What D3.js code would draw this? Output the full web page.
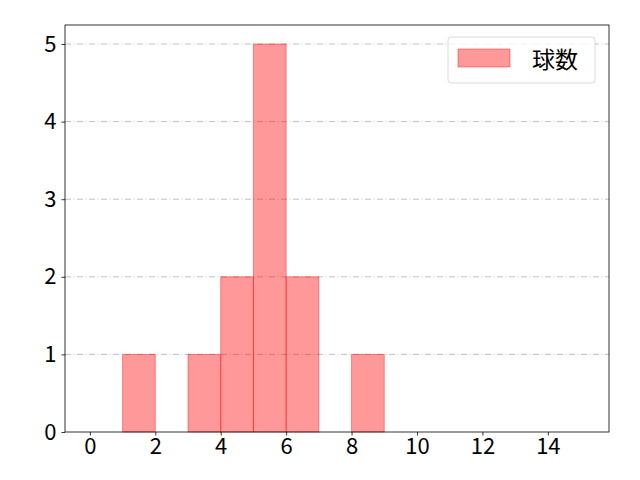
<!DOCTYPE html>
<html>
<head>
<meta charset="utf-8">
<script src="https://cdn.jsdelivr.net/npm/d3@7"></script>
<style>
  body { margin: 0; background: #fff; }
  svg text { font-family: "Noto Sans CJK JP", "DejaVu Sans", sans-serif; }
</style>
</head>
<body>
<script>
// histogram bins (left edge, width 1) and counts
const binStarts = [1, 3, 4, 5, 6, 8];
const counts = [1, 1, 2, 5, 2, 1];
const xTicks = [0, 2, 4, 6, 8, 10, 12, 14];
const yTicks = [0, 1, 2, 3, 4, 5];
const seriesName = "球数";

const w = 640, h = 480;
const m = { left: 65, right: 31, top: 25, bottom: 48 };

const svg = d3.select("body").append("svg").attr("width", w).attr("height", h);

const x = d3.scaleLinear().domain([-0.76, 15.87]).range([m.left, w - m.right]);
const y = d3.scaleLinear().domain([0, 5.245]).range([h - m.bottom, m.top]);

// grid
svg.append("g").selectAll("line").data(yTicks.slice(1)).enter()
  .append("line")
  .attr("x1", m.left).attr("x2", w - m.right)
  .attr("y1", d => y(d)).attr("y2", d => y(d))
  .attr("stroke", "#b0b0b0").attr("stroke-width", 0.8)
  .attr("stroke-dasharray", "6,2.5,1,2.5");

// bars
svg.append("g").selectAll("rect").data(binStarts).enter()
  .append("rect")
  .attr("x", d => x(d))
  .attr("width", d => x(d + 1) - x(d))
  .attr("y", (d, i) => y(counts[i]))
  .attr("height", (d, i) => y(0) - y(counts[i]))
  .attr("fill", "rgba(255,0,0,0.4)")
  .attr("stroke", "rgba(255,0,0,0.4)")
  .attr("stroke-width", 1);

// axes
const xAxis = svg.append("g").attr("transform", `translate(0,${h - m.bottom})`)
  .call(d3.axisBottom(x).tickValues(xTicks).tickFormat(d3.format("d")).tickSize(3.5).tickPadding(3));
const yAxis = svg.append("g").attr("transform", `translate(${m.left},0)`)
  .call(d3.axisLeft(y).tickValues(yTicks).tickFormat(d3.format("d")).tickSize(3.5).tickPadding(5));
[xAxis, yAxis].forEach(a => {
  a.select(".domain").remove();
  a.selectAll("text").style("font-size", "22px").attr("fill", "#000");
  a.selectAll("line").attr("stroke", "#000").attr("stroke-width", 0.8);
});

// frame
svg.append("rect")
  .attr("x", m.left).attr("y", m.top)
  .attr("width", w - m.left - m.right).attr("height", h - m.top - m.bottom)
  .attr("fill", "none").attr("stroke", "#000").attr("stroke-width", 0.8);

// legend
const lg = svg.append("g").attr("transform", "translate(448,37)");
lg.append("rect").attr("width", 147).attr("height", 46).attr("rx", 3)
  .attr("fill", "#fff").attr("fill-opacity", 0.8)
  .attr("stroke", "#d0d0d0").attr("stroke-width", 0.8);
lg.append("rect").attr("x", 10).attr("y", 12).attr("width", 52).attr("height", 18)
  .attr("fill", "rgba(255,0,0,0.4)").attr("stroke", "rgba(255,0,0,0.4)");
lg.append("text").attr("x", 84).attr("y", 31).style("font-size", "23px").text(seriesName);
</script>
</body>
</html>
